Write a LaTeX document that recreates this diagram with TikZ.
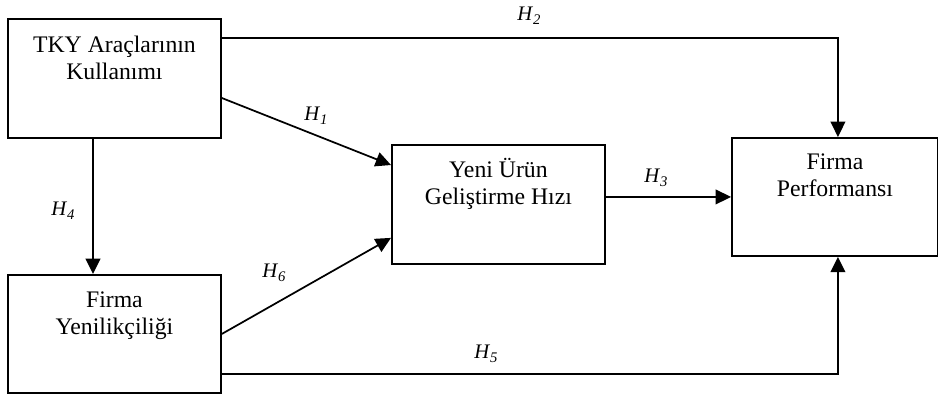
\documentclass[tikz,border=0pt]{standalone}
\usepackage{fontspec}
\setmainfont{Liberation Serif}
\usetikzlibrary{arrows.meta,calc}

% hypothesis label: italic H with a lowered italic index
\newcommand{\hyp}[1]{\textit{H}\raisebox{-3.4pt}{\fontsize{11}{12}\selectfont\itshape #1}}

\begin{document}
\begin{tikzpicture}[x=0.75pt,y=-0.75pt,
  box/.style={draw, line width=1.4pt, inner sep=0pt, anchor=north west,
    minimum width=159.75pt, minimum height=89.25pt},
  boxtext/.style={anchor=north, inner sep=0pt, align=center,
    font=\fontsize{17.8}{20.6}\selectfont},
  hlabel/.style={anchor=base west, inner sep=0pt,
    font=\fontsize{15.5}{17}\selectfont},
  link/.style={line width=1.3pt, -{Triangle[length=11.5pt,width=11pt]}}]

\useasboundingbox (0,0) rectangle (938,394);

% constructs
\node[box] (A) at (7,18) {};
\node[box, minimum height=88.5pt] (B) at (7,274) {};
\node[box] (C) at (391,144) {};
\node[box, minimum width=154.5pt, minimum height=88.5pt] (D) at (731,137) {};

\node[boxtext] (At) at ([yshift=-8.5pt]A.north) {\rule{0pt}{17pt}TKY Araçlarının\\Kullanımı};
\node[boxtext] (Bt) at ([yshift=-7.8pt]B.north) {\rule{0pt}{17pt}Firma\\Yenilikçiliği};
\node[boxtext] (Ct) at ([yshift=-7.8pt]C.north) {\rule{0pt}{17pt}Yeni Ürün\\Geliştirme Hızı};
\node[boxtext] (Dt) at ([yshift=-7pt]D.north) {\rule{0pt}{17pt}Firma\\Performansı};

% hypothesised paths
\draw[link] ([yshift=-15pt]A.north east) -| ([xshift=2.25pt]D.north);
\draw[link] ([yshift=-60pt]A.north east) -- ([yshift=-15.75pt]C.north west);
\draw[link] (B.east) -- ([yshift=20.25pt]C.south west);
\draw[link] ([xshift=64.5pt]A.south west) -- ([xshift=64.5pt]B.north west);
\draw[link] (C.east |- D.west) -- (D.west);
\draw[link] ([yshift=15pt]B.south east) -| ([xshift=2.25pt]D.south);

% path labels
\node[hlabel] (h2) at (517,20) {\hyp{2}};
\node[hlabel] (h1) at (304,120) {\hyp{1}};
\node[hlabel] (h4) at (51,215) {\hyp{4}};
\node[hlabel] (h6) at (262,277) {\hyp{6}};
\node[hlabel] (h3) at (644,182) {\hyp{3}};
\node[hlabel] (h5) at (474,358) {\hyp{5}};
\end{tikzpicture}
\end{document}
